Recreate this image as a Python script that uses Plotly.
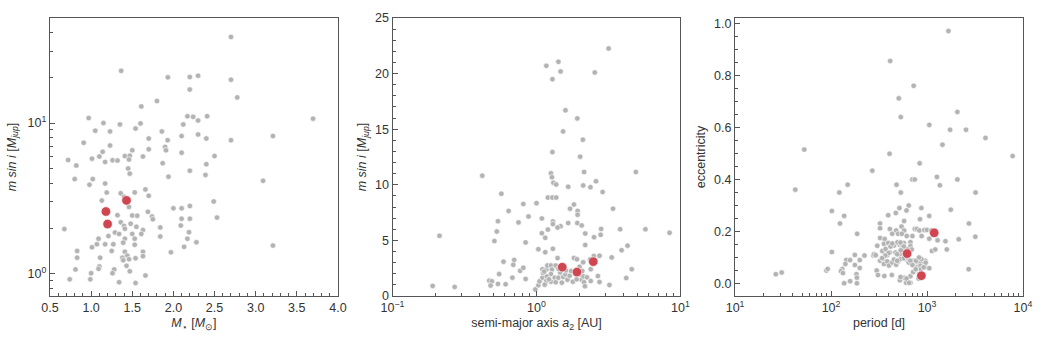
import plotly.graph_objects as go

# ---------------- Panel 1: stellar mass vs m sin i ----------------
mstar = [2.70, 1.365, 1.933, 2.199, 2.30, 2.70, 2.199, 2.776, 1.80, 1.61, 3.698, 0.97, 2.17, 2.24, 2.41, 2.30,
         1.15, 1.35, 1.60, 2.12, 1.05, 1.23, 1.54, 1.86, 2.10, 2.30, 3.21, 0.91, 1.70, 1.93, 2.40, 2.70, 1.23,
         1.50, 1.70, 1.14, 1.90, 1.91, 2.10, 1.41, 1.47, 1.63, 2.50, 1.10, 1.01, 0.72, 1.26, 1.32, 1.17, 1.46,
         0.82, 1.87, 2.40, 1.45, 2.20, 0.80, 1.02, 1.47, 1.94, 2.39, 3.09, 0.98, 1.17, 1.66, 1.19, 1.36, 1.53,
         1.70, 1.13, 1.40, 1.46, 2.49, 2.00, 2.10, 2.20, 1.69, 1.32, 1.50, 1.56, 1.74, 2.10, 2.20, 2.53, 1.75,
         1.36, 1.48, 0.675, 1.40, 1.41, 1.55, 1.84, 2.09, 1.63, 1.29, 1.34, 1.50, 1.61, 2.19, 1.21, 1.84, 1.09,
         1.53, 1.41, 2.17, 1.07, 1.17, 1.27, 1.39, 1.53, 2.13, 2.28, 3.21, 1.01, 0.83, 1.25, 1.41, 1.63, 1.97,
         1.44, 1.63, 0.83, 1.11, 1.38, 1.46, 1.54, 1.39, 1.43, 1.10, 0.81, 1.09, 1.28, 1.47, 1.00, 1.26, 1.66,
         0.74, 0.99, 1.34, 1.54]
msini1 = [37.3, 22.2, 20.1, 20.2, 20.6, 19.4, 16.7, 14.8, 14.0, 12.9, 10.7, 10.8, 11.1, 11.0, 11.1, 10.4,
          10.0, 9.8, 9.95, 9.8, 8.9, 8.8, 9.2, 8.8, 8.2, 8.4, 8.2, 7.4, 7.9, 7.7, 7.9, 7.7, 7.1,
          6.6, 6.7, 6.45, 6.95, 6.6, 6.36, 6.04, 6.08, 6.0, 6.04, 6.0, 5.81, 5.69, 5.66, 5.64, 5.52, 5.73,
          5.23, 5.42, 5.34, 5.0, 4.83, 4.25, 4.25, 4.62, 4.41, 4.53, 4.14, 3.90, 3.97, 3.63, 3.46, 3.42, 3.47,
          3.29, 3.06, 3.24, 2.78, 3.02, 2.72, 2.72, 2.82, 2.58, 2.45, 2.44, 2.43, 2.40, 2.32, 2.32, 2.36, 2.30,
          2.20, 2.15, 1.98, 2.08, 1.99, 2.05, 2.03, 2.09, 1.95, 1.88, 1.84, 1.84, 1.84, 1.89, 1.78, 1.77, 1.71,
          1.71, 1.71, 1.71, 1.57, 1.57, 1.57, 1.61, 1.56, 1.51, 1.62, 1.54, 1.50, 1.42, 1.42, 1.40, 1.40, 1.39,
          1.32, 1.31, 1.28, 1.28, 1.28, 1.25, 1.27, 1.23, 1.13, 1.12, 1.07, 1.08, 1.07, 1.04, 1.01, 1.01, 0.975,
          0.92, 0.92, 0.88, 0.87]
hl_mstar = [1.43, 1.18, 1.20]
hl_msini = [3.07, 2.59, 2.14]

# ---------------- Panel 2: semi-major axis vs m sin i ----------------
a2 = [3.17, 1.17, 1.42, 1.47, 1.29, 2.54, 1.59, 1.92, 1.53, 2.10, 1.29, 2.01,
      1.26, 2.14, 4.90, 0.42, 1.28, 1.31, 1.37, 1.66, 2.11, 2.37, 2.59, 2.88, 0.57, 1.20, 1.29, 1.37,
      0.81, 1.00, 1.82, 1.71, 3.40, 1.93, 0.64, 1.93, 0.88, 1.09, 0.75, 0.54, 1.30, 1.66, 1.92, 1.30,
      2.06, 1.47, 1.40, 1.20, 2.81, 3.81, 5.71, 0.53, 1.09, 2.18, 8.40, 2.79, 0.212, 1.15, 2.51, 0.51,
      0.84, 2.18, 4.29, 1.03, 1.30, 3.90, 1.15, 2.74, 1.40, 3.33, 1.82, 1.91, 0.59, 0.70, 2.11, 0.69,
      1.26, 4.59, 0.77, 0.55, 0.81, 0.68, 0.84, 0.47, 0.49, 0.48, 0.54, 0.61, 0.19, 0.27, 3.21, 4.20,
      2.38, 2.67, 0.98, 1.03, 2.50,
      1.05, 1.10, 1.11, 1.10, 1.17, 1.19, 1.26, 1.28, 1.36, 1.26, 1.18, 1.17, 1.26, 1.34, 1.36, 1.42,
      1.46, 1.42, 1.53, 1.59, 1.64, 1.70, 1.74, 1.79, 1.87, 1.99, 2.02, 2.06, 2.14, 2.12, 2.17, 2.24,
      2.08, 2.38, 2.36, 2.74, 1.14, 1.22, 1.50, 1.60, 1.90, 1.13]
msini2 = [22.26, 20.7, 21.06, 20.2, 19.5, 20.1, 16.7, 15.97, 14.8, 14.06, 12.94, 12.53,
          11.03, 11.15, 11.15, 10.82, 10.68, 10.18, 10.03, 9.82, 9.94, 9.79, 10.32, 9.35, 9.20, 8.85, 8.85, 8.85,
          8.27, 8.35, 8.23, 7.85, 7.85, 7.65, 7.65, 7.30, 7.15, 6.97, 6.62, 6.73, 6.71, 6.56, 6.56, 6.47,
          6.35, 6.27, 6.15, 5.97, 6.03, 6.0, 6.0, 5.80, 5.65, 5.62, 5.68, 5.50, 5.41, 5.23, 5.29, 4.94,
          4.82, 4.59, 4.53, 4.21, 4.24, 4.12, 3.94, 3.62, 3.41, 3.47, 3.41, 3.30, 3.09, 3.24, 3.03, 2.80,
          2.77, 2.41, 2.26, 1.97, 2.53, 1.65, 1.53, 1.38, 1.32, 0.94, 1.09, 1.06, 0.91, 0.82, 1.00, 1.62,
          1.35, 1.79, 0.59, 0.97, 3.59,
          1.32, 1.65, 2.06, 2.41, 2.38, 2.74, 2.74, 2.38, 2.74, 1.97, 1.76, 1.35, 1.29, 1.65, 1.24, 1.65,
          2.12, 2.44, 1.71, 1.94, 1.47, 1.82, 2.24, 1.29, 2.00, 2.62, 1.94, 1.47, 1.24, 1.76, 0.88, 1.68,
          2.24, 2.41, 3.29, 1.26, 1.02, 1.50, 1.20, 2.30, 1.50, 2.20]
hl_a2 = [1.51, 1.91, 2.48]
hl_msini2 = [2.59, 2.15, 3.09]

# ---------------- Panel 3: period vs eccentricity ----------------
period = [1671, 413, 726, 508, 533, 2070, 1057, 1740, 2548, 4064, 1449, 52.6, 407, 7800, 838, 269,
          42.4, 149, 122, 481, 533, 704, 745, 1267, 1361, 2071, 3205,
          102, 137, 124, 187, 102, 26.6, 30.6, 89.4, 92.2, 131, 127, 133, 137, 158, 144, 158, 141, 177,
          199, 177, 199, 184, 186, 186, 299, 308, 359, 430, 521, 577, 605, 671, 223, 276,
          410, 434, 477, 500, 542, 577, 577, 546, 615, 704, 745, 781, 832, 879, 937, 998, 1055, 1287, 1107,
          324, 362, 356, 394, 452, 500, 516, 573, 551, 671, 671, 693, 626, 542, 521, 470, 410, 385, 342,
          281, 292, 324, 348, 356, 385, 401, 434, 477, 500, 529, 596, 645, 716, 787, 852, 960, 787, 726,
          671, 611, 529, 650, 818, 960, 873, 1125, 1219, 1556, 1607, 2138, 2716, 2735, 3184, 1767, 1055,
          845, 873, 645, 611, 516, 473, 394, 324, 324,
          303, 370, 417, 434, 493, 529, 573, 533, 489, 397, 367, 340, 452, 489, 573, 630, 671, 768, 826,
          852, 704, 716, 763, 865, 968, 923, 1055]
ecc = [0.971, 0.856, 0.760, 0.712, 0.640, 0.660, 0.610, 0.591, 0.591, 0.560, 0.534, 0.515, 0.499, 0.490,
       0.462, 0.434,
       0.361, 0.380, 0.350, 0.380, 0.350, 0.400, 0.400, 0.410, 0.3775, 0.400, 0.350,
       0.279, 0.260, 0.231, 0.191, 0.121, 0.036, 0.0425, 0.050, 0.056, 0.056, 0.0475, 0.040, 0.001, 0.009,
       0.090, 0.090, 0.075, 0.110, 0.090, 0.071, 0.060, 0.036, 0.0225, 0.001, 0.050, 0.0325, 0.029, 0.0325,
       0.0125, 0.0225, 0.0025, 0.0025, 0.1075, 0.1075,
       0.210, 0.191, 0.204, 0.191, 0.219, 0.240, 0.204, 0.191, 0.1825, 0.1825, 0.210, 0.210, 0.204, 0.1825,
       0.206, 0.206, 0.1725, 0.166, 0.204,
       0.175, 0.171, 0.1525, 0.156, 0.146, 0.156, 0.150, 0.156, 0.146, 0.159, 0.144, 0.131, 0.131, 0.130,
       0.1125, 0.119, 0.119, 0.109, 0.125,
       0.1125, 0.109, 0.0875, 0.094, 0.075, 0.085, 0.069, 0.081, 0.0725, 0.085, 0.094, 0.094, 0.081, 0.0875,
       0.081, 0.081, 0.0875, 0.0625, 0.044,
       0.0275, 0.019, 0.025, 0.0025, 0.019, 0.0625, 0.094, 0.125, 0.131, 0.1625, 0.131, 0.170, 0.055, 0.231,
       0.180, 0.284, 0.260,
       0.2475, 0.290, 0.300, 0.281, 0.290, 0.271, 0.2625, 0.231, 0.2125,
       0.145, 0.1325, 0.1425, 0.154, 0.159, 0.1575, 0.1425, 0.1275, 0.1125, 0.1175, 0.1075, 0.0975, 0.0925,
       0.0875, 0.0975, 0.100, 0.0875, 0.0875, 0.100, 0.0675, 0.071, 0.044, 0.055, 0.055, 0.080, 0.0625, 0.059]
hl_period = [620, 873, 1188]
hl_ecc = [0.115, 0.030, 0.195]

GRAY = "#b3b3b3"
RED = "#cf4650"
FONT = "Liberation Sans, Arial, sans-serif"
AXC = "#555555"

fig = go.Figure()
pairs = [(mstar, msini1, hl_mstar, hl_msini, "x", "y"),
         (a2, msini2, hl_a2, hl_msini2, "x2", "y2"),
         (period, ecc, hl_period, hl_ecc, "x3", "y3")]
for xs, ys, hx, hy, xa, ya in pairs:
    fig.add_trace(go.Scatter(x=xs, y=ys, mode="markers", xaxis=xa, yaxis=ya, showlegend=False,
                             marker=dict(size=5.5, color=GRAY, line=dict(color="white", width=0.6))))
    fig.add_trace(go.Scatter(x=hx, y=hy, mode="markers", xaxis=xa, yaxis=ya, showlegend=False,
                             marker=dict(size=9.5, color=RED, line=dict(color="white", width=0.6))))


def base_axis(**kw):
    d = dict(showline=True, linecolor=AXC, linewidth=1.3, mirror=True, ticks="inside",
             ticklen=5, tickwidth=1, tickcolor=AXC, showgrid=False, zeroline=False,
             tickfont=dict(family=FONT, size=12.5, color="#333333"),
             title_font=dict(family=FONT, size=12.5, color="#333333"))
    d.update(kw)
    return d


def log_minor(decades):
    vals = []
    for d in decades:
        for k in range(2, 10):
            vals.append(k * 10 ** d)
    return vals


W, H = 1044, 341
ml, mr, mt, mb = 50, 14, 11, 45
pw = W - ml - mr
d1 = [0, (340 - ml) / pw]
d2 = [(395 - ml) / pw, (685 - ml) / pw]
d3 = [(740 - ml) / pw, 1.0]

fig.update_layout(
    width=W, height=H, margin=dict(l=ml, r=mr, t=mt, b=mb),
    paper_bgcolor="white", plot_bgcolor="white",
    xaxis=base_axis(domain=d1, anchor="y", range=[0.5, 4.0], tickmode="array",
                    tickvals=[0.5, 1.0, 1.5, 2.0, 2.5, 3.0, 3.5, 4.0],
                    ticktext=["0.5", "1.0", "1.5", "2.0", "2.5", "3.0", "3.5", "4.0"],
                    minor=dict(ticks="inside", ticklen=3, tickcolor=AXC, dtick=0.1, tick0=0.5),
                    title=dict(text="<i>M</i><sub>⋆</sub> [<i>M</i><sub>⊙</sub>]", standoff=4)),
    yaxis=base_axis(domain=[0, 1], anchor="x", type="log", range=[-0.147, 1.697],
                    tickvals=[1, 10], ticktext=["10<sup>0</sup>", "10<sup>1</sup>"],
                    minor=dict(ticks="inside", ticklen=3, tickcolor=AXC,
                               tickvals=[0.7, 0.8, 0.9] + log_minor([0]) + [20, 30, 40]),
                    title=dict(text="<i>m sin i</i> [<i>M<sub>jup</sub></i>]", standoff=8)),
    xaxis2=base_axis(domain=d2, anchor="y2", type="log", range=[-1, 1],
                     tickvals=[0.1, 1, 10], ticktext=["10<sup>−1</sup>", "10<sup>0</sup>", "10<sup>1</sup>"],
                     minor=dict(ticks="inside", ticklen=3, tickcolor=AXC, tickvals=log_minor([-1, 0])),
                     title=dict(text="semi-major axis <i>a</i><sub>2</sub> [AU]", standoff=4)),
    yaxis2=base_axis(domain=[0, 1], anchor="x2", range=[0, 25], tickvals=[0, 5, 10, 15, 20, 25],
                     minor=dict(ticks="inside", ticklen=3, tickcolor=AXC, dtick=1, tick0=0),
                     title=dict(text="<i>m sin i</i> [<i>M<sub>jup</sub></i>]", standoff=5)),
    xaxis3=base_axis(domain=d3, anchor="y3", type="log", range=[1, 4],
                     tickvals=[10, 100, 1000, 10000],
                     ticktext=["10<sup>1</sup>", "10<sup>2</sup>", "10<sup>3</sup>", "10<sup>4</sup>"],
                     minor=dict(ticks="inside", ticklen=3, tickcolor=AXC, tickvals=log_minor([1, 2, 3])),
                     title=dict(text="period [d]", standoff=4)),
    yaxis3=base_axis(domain=[0, 1], anchor="x3", range=[-0.048, 1.021],
                     tickvals=[0.0, 0.2, 0.4, 0.6, 0.8, 1.0],
                     ticktext=["0.0", "0.2", "0.4", "0.6", "0.8", "1.0"],
                     minor=dict(ticks="inside", ticklen=3, tickcolor=AXC, dtick=0.05, tick0=0),
                     title=dict(text="eccentricity", standoff=5)),
)

fig.write_html("out.html", config={"displayModeBar": False},
               post_script="document.body.style.margin='0';")
